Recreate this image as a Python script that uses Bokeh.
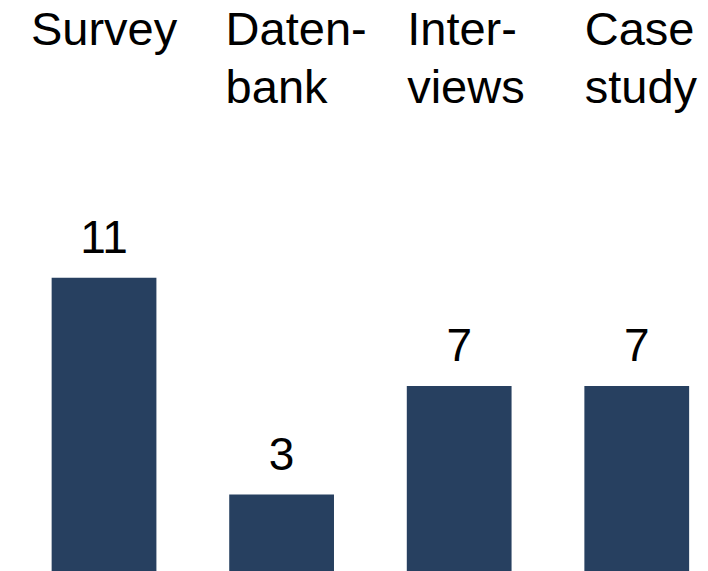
from bokeh.plotting import figure
from bokeh.models import Range1d, ColumnDataSource
from bokeh.embed import file_html
from bokeh.resources import INLINE
from bokeh.core.properties import value

# data
categories = ["Survey", "Daten-\nbank", "Inter-\nviews", "Case\nstudy"]
counts = [11, 3, 7, 7]
value_labels = [str(c) for c in counts]

xs = list(range(len(categories)))
Y_BOT = 0.159
Y_TOP = 21.23

src = ColumnDataSource(dict(
    x=xs, top=counts, lbl=value_labels, cat=categories,
    cat_y=[Y_TOP] * len(categories),
    align=["center", "left", "left", "left"],
    xoff=[0, -56, -52, -52],
))

p = figure(width=708, height=571, output_backend="svg", toolbar_location=None,
           x_range=Range1d(-0.583, 3.404), y_range=Range1d(Y_BOT, Y_TOP),
           min_border=0, min_border_left=0, min_border_right=0,
           min_border_top=0, min_border_bottom=0)
p.axis.visible = False
p.grid.visible = False
p.outline_line_color = None
p.background_fill_color = "white"
p.border_fill_color = "white"

p.vbar(x="x", top="top", width=0.59, bottom=0, source=src,
       fill_color="#274060", line_color=None)

p.text(x="x", y="top", text="lbl", source=src, text_align="center",
       text_baseline="alphabetic", y_offset=-41,
       text_font=value("Liberation Sans"), text_font_size="46px",
       text_color="black")

p.text(x="x", y="cat_y", text="cat", source=src, text_align="align",
       x_offset="xoff", text_baseline="top", y_offset=1,
       text_font=value("Liberation Sans"), text_font_size="47px",
       text_line_height=1.1, text_color="black")

open("out.html", "w").write(file_html(p, INLINE))
